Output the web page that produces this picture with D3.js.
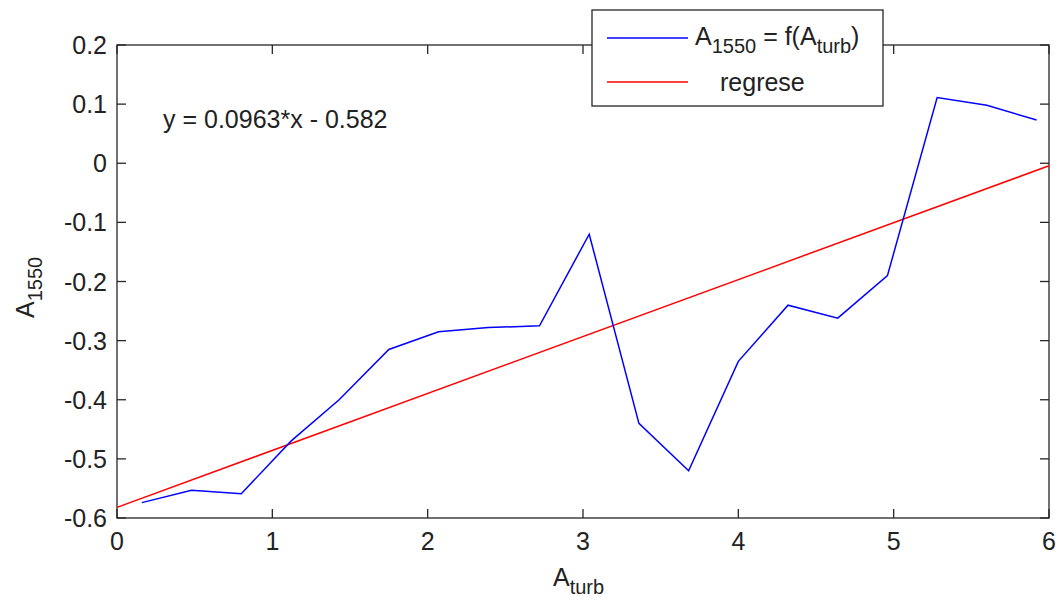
<!DOCTYPE html>
<html>
<head>
<meta charset="utf-8">
<script src="https://cdn.jsdelivr.net/npm/d3@7"></script>
<style>
  body { margin: 0; background: #fff; }
  text { font-family: "Liberation Sans", Arial, sans-serif; fill: #222; }
</style>
</head>
<body>
<div id="chart"></div>
<script>
// measured series: A1550 as a function of A_turb
const aTurb = [0.16, 0.48, 0.80, 1.12, 1.43, 1.75, 2.07, 2.39, 2.72, 3.04,
	3.36, 3.68, 4.00, 4.32, 4.64, 4.96, 5.28, 5.60, 5.92];
const a1550 = [-0.574, -0.553, -0.559, -0.47, -0.40, -0.315, -0.285, -0.278, -0.275, -0.12,
	-0.44, -0.52, -0.335, -0.24, -0.262, -0.19, 0.111, 0.098, 0.073];
// regression y = 0.0963*x - 0.582, drawn across the axis range
const regX = [0, 6];
const regY = [-0.582, 0.0963 * 6 - 0.582];
const xTicks = [0, 1, 2, 3, 4, 5, 6];
const yTicks = [0.2, 0.1, 0, -0.1, -0.2, -0.3, -0.4, -0.5, -0.6];

const width = 1061;
const height = 602;
const m = { left: 117, right: 1049, top: 45, bottom: 518 };

const svg = d3.select('#chart')
	.append('svg')
	.attr('width', width)
	.attr('height', height);

const x = d3.scaleLinear().domain([0, 6]).range([m.left, m.right]);
const y = d3.scaleLinear().domain([-0.6, 0.2]).range([m.bottom, m.top]);

const fs = 25;
const tickLen = 9;
const axisColor = '#262626';

// box + mirrored ticks, matlab style
const ax = svg.append('g');
ax.append('rect')
	.attr('x', m.left).attr('y', m.top)
	.attr('width', m.right - m.left).attr('height', m.bottom - m.top)
	.attr('fill', 'none').attr('stroke', axisColor).attr('stroke-width', 1.3);

xTicks.forEach((t) => {
	ax.append('line').attr('x1', x(t)).attr('x2', x(t))
		.attr('y1', m.bottom).attr('y2', m.bottom - tickLen)
		.attr('stroke', axisColor).attr('stroke-width', 1.3);
	ax.append('line').attr('x1', x(t)).attr('x2', x(t))
		.attr('y1', m.top).attr('y2', m.top + tickLen)
		.attr('stroke', axisColor).attr('stroke-width', 1.3);
	ax.append('text')
		.attr('x', x(t)).attr('y', m.bottom + 32)
		.attr('text-anchor', 'middle')
		.attr('font-size', fs)
		.text(d3.format('d')(t));
});

yTicks.forEach((t) => {
	ax.append('line').attr('x1', m.left).attr('x2', m.left + tickLen)
		.attr('y1', y(t)).attr('y2', y(t))
		.attr('stroke', axisColor).attr('stroke-width', 1.3);
	ax.append('line').attr('x1', m.right).attr('x2', m.right - tickLen)
		.attr('y1', y(t)).attr('y2', y(t))
		.attr('stroke', axisColor).attr('stroke-width', 1.3);
	ax.append('text')
		.attr('x', m.left - 10).attr('y', y(t) + 9)
		.attr('text-anchor', 'end')
		.attr('font-size', fs)
		.text(t === 0 ? '0' : String(t));
});

const line = d3.line()
	.x((d) => x(d[0]))
	.y((d) => y(d[1]));

svg.append('path')
	.datum(d3.zip(regX, regY))
	.attr('d', line)
	.attr('fill', 'none')
	.attr('stroke', '#ff0000')
	.attr('stroke-width', 1.5);

svg.append('path')
	.datum(d3.zip(aTurb, a1550))
	.attr('d', line)
	.attr('fill', 'none')
	.attr('stroke', '#0000ff')
	.attr('stroke-width', 1.5);

// equation annotation
svg.append('text')
	.attr('x', 163).attr('y', 128)
	.attr('font-size', fs)
	.text('y = 0.0963*x - 0.582');

// axis labels
const xl = svg.append('text')
	.attr('x', 553).attr('y', 586)
	.attr('font-size', fs);
xl.append('tspan').text('A');
xl.append('tspan').attr('dy', 8).attr('font-size', 20).text('turb');

const yl = svg.append('text')
	.attr('transform', 'translate(34,318) rotate(-90)')
	.attr('font-size', fs);
yl.append('tspan').text('A');
yl.append('tspan').attr('dy', 8).attr('font-size', 20).text('1550');

// legend
const lg = svg.append('g');
lg.append('rect')
	.attr('x', 592).attr('y', 10)
	.attr('width', 291).attr('height', 96)
	.attr('fill', '#fff')
	.attr('stroke', axisColor).attr('stroke-width', 1.3);
lg.append('line')
	.attr('x1', 607).attr('x2', 688).attr('y1', 38).attr('y2', 38)
	.attr('stroke', '#0000ff').attr('stroke-width', 1.5);
lg.append('line')
	.attr('x1', 607).attr('x2', 688).attr('y1', 82).attr('y2', 82)
	.attr('stroke', '#ff0000').attr('stroke-width', 1.5);
const lt = lg.append('text')
	.attr('x', 695).attr('y', 45)
	.attr('font-size', fs);
lt.append('tspan').text('A');
lt.append('tspan').attr('dy', 8).attr('font-size', 20).text('1550');
lt.append('tspan').attr('dy', -8).text(' = f(A');
lt.append('tspan').attr('dy', 8).attr('font-size', 20).text('turb');
lt.append('tspan').attr('dy', -8).text(')');
lg.append('text')
	.attr('x', 720).attr('y', 91)
	.attr('font-size', fs)
	.text('regrese');
</script>
</body>
</html>
